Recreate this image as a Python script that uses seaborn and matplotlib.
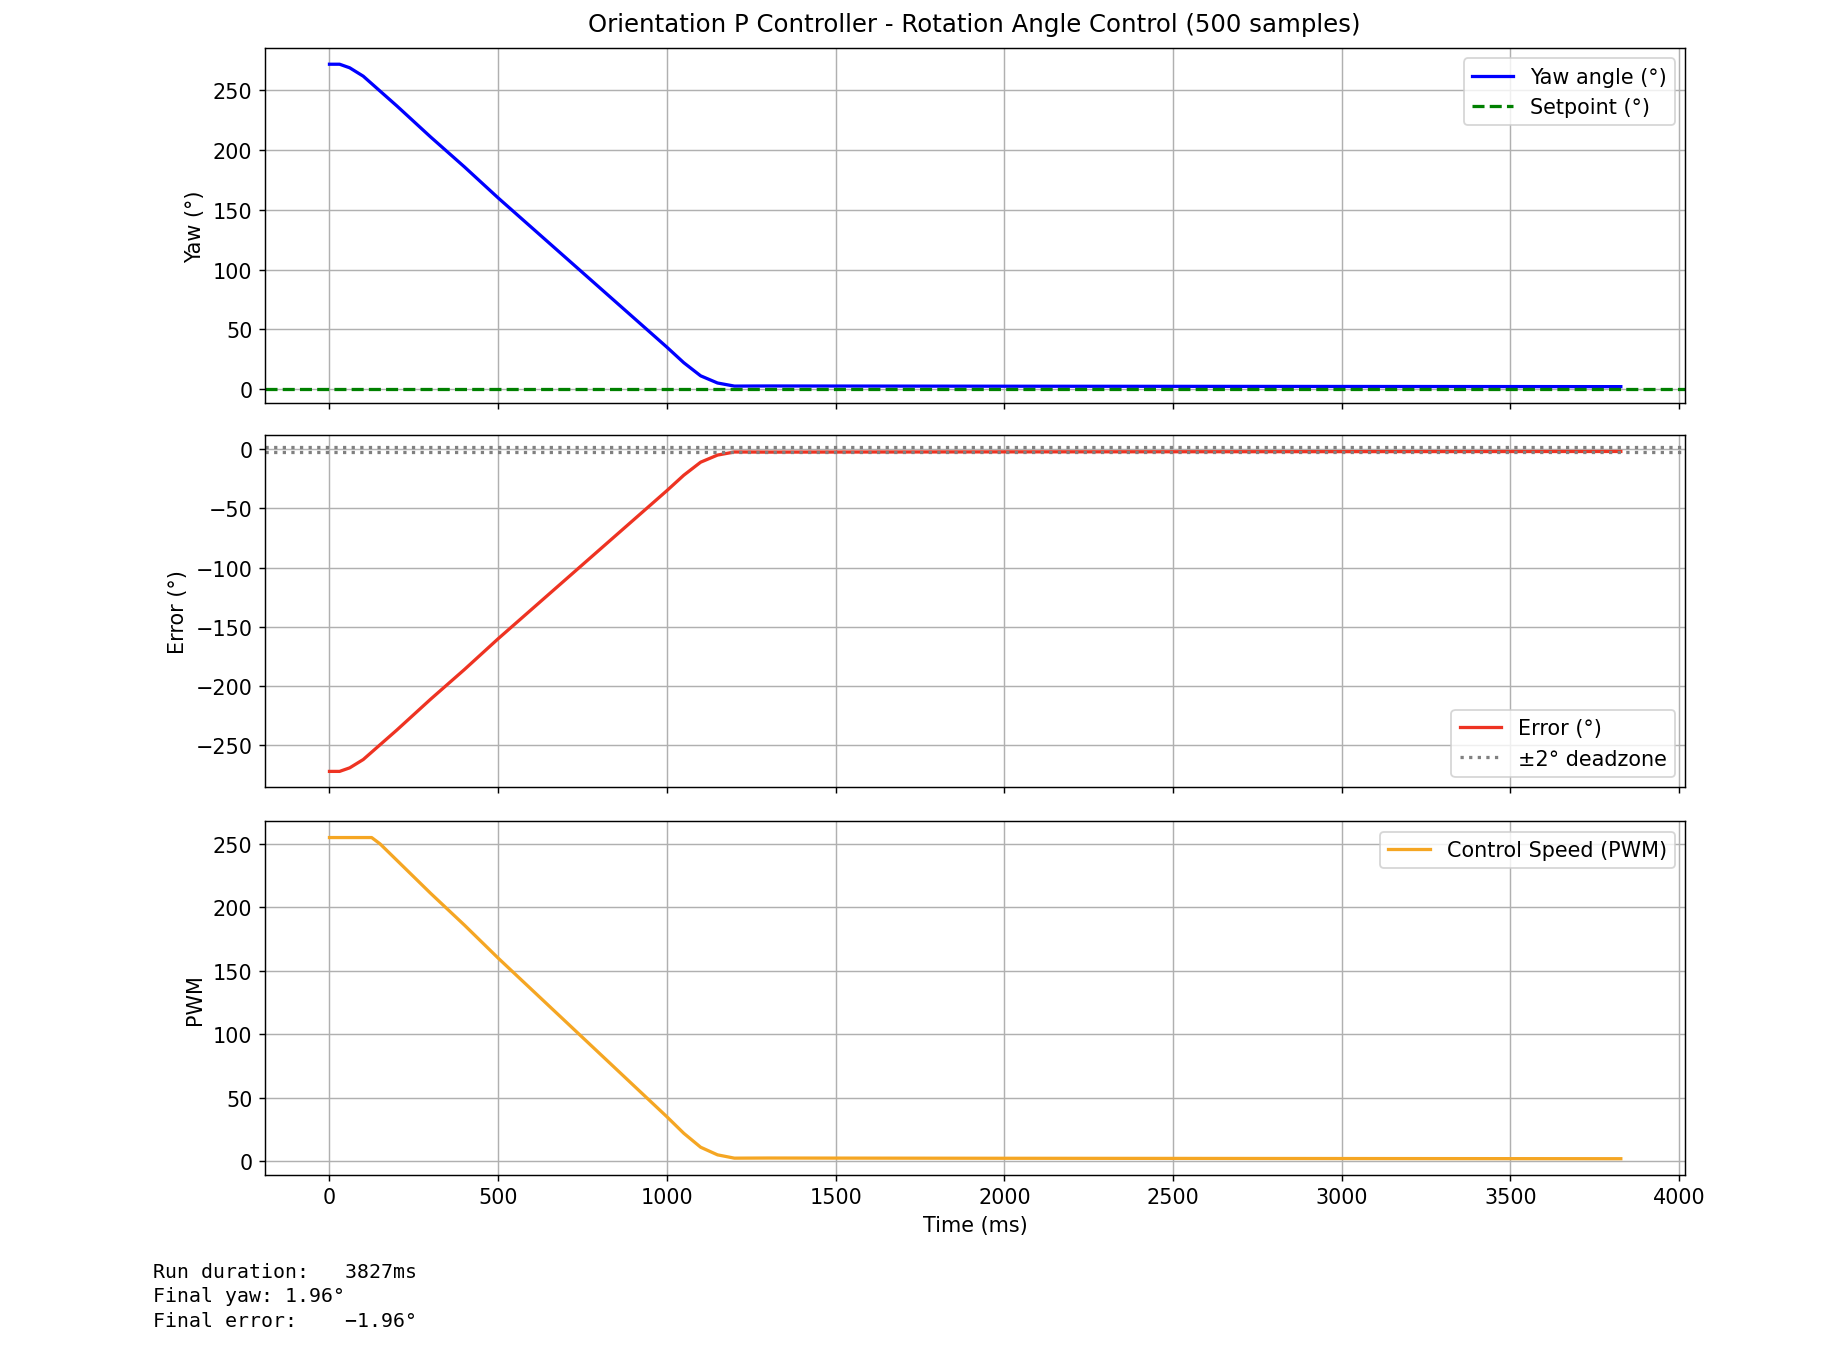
import matplotlib
matplotlib.use('Agg')
import matplotlib.pyplot as plt
import seaborn as sns
import pandas as pd

plt.rcParams['font.size'] = 11.5

# readings taken off the reference plot
time_ms = [0, 30, 60, 100, 200, 300, 400, 500, 600, 700, 800, 900, 1000,
           1050, 1100, 1150, 1200, 1300, 2000, 3000, 3827]
yaw = [272, 272, 269, 262, 237, 211, 186, 160, 135, 110, 85, 60, 35,
       22, 11, 5, 2.4, 2.5, 2.3, 2.1, 1.96]
error = [-272, -272, -269, -262, -237, -211, -186, -160, -135, -110, -85, -60, -35,
         -22, -11, -5, -2.4, -2.5, -2.3, -2.1, -1.96]
pwm_time = [0, 60, 125, 150, 200, 300, 400, 500, 600, 700, 800, 900, 1000,
            1050, 1100, 1150, 1200, 1300, 2000, 3000, 3827]
pwm = [255, 255, 255, 250, 237, 211, 186, 160, 135, 110, 85, 60, 35,
       22, 11, 5, 2.4, 2.5, 2.3, 2.1, 1.96]
setpoint = 0
deadzone = 2

df = pd.DataFrame({'t': time_ms, 'yaw': yaw, 'err': error})
dfp = pd.DataFrame({'t': pwm_time, 'pwm': pwm})

fig = plt.figure(figsize=(14.2, 10.4923), dpi=130)
ax1 = fig.add_axes([0.1435, 0.704, 0.7695, 0.260])
ax2 = fig.add_axes([0.1435, 0.422, 0.7695, 0.258], sharex=ax1)
ax3 = fig.add_axes([0.1435, 0.138, 0.7695, 0.259], sharex=ax1)

sns.lineplot(data=df, x='t', y='yaw', ax=ax1, color='blue', linewidth=1.8, label='Yaw angle (°)')
ax1.axhline(setpoint, color='green', linestyle='--', linewidth=1.8, label='Setpoint (°)')
ax1.set_ylabel('Yaw (°)')
ax1.legend(loc='upper right')

sns.lineplot(data=df, x='t', y='err', ax=ax2, color='#ee3322', linewidth=1.8, label='Error (°)')
ax2.axhline(deadzone, color='gray', linestyle=':', linewidth=1.8, label='±2° deadzone')
ax2.axhline(-deadzone, color='gray', linestyle=':', linewidth=1.8)
ax2.set_ylabel('Error (°)')
ax2.legend(loc='lower right')

sns.lineplot(data=dfp, x='t', y='pwm', ax=ax3, color='#f5a623', linewidth=1.8, label='Control Speed (PWM)')
ax3.set_ylabel('PWM')
ax3.set_xlabel('Time (ms)')
ax3.legend(loc='upper right')

for ax in (ax1, ax2, ax3):
    ax.grid(True)
for ax in (ax1, ax2):
    ax.set_xlabel('')
    ax.tick_params(labelbottom=False)

fig.text(0.528, 0.982, 'Orientation P Controller - Rotation Angle Control (500 samples)',
         ha='center', va='center', fontsize=13.5)
fig.text(0.083, 0.074, 'Run duration:   3827ms\nFinal yaw: 1.96°\nFinal error:    −1.96°',
         family='DejaVu Sans Mono', fontsize=11, va='top', linespacing=1.35)

fig.savefig('out.png', dpi=130)
